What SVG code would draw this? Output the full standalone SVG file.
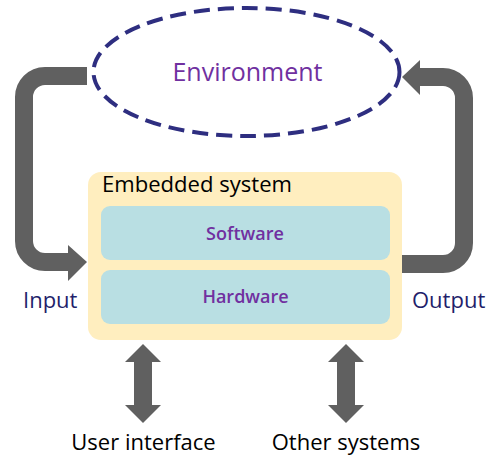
<svg xmlns="http://www.w3.org/2000/svg" width="497" height="476" viewBox="0 0 497 476">
<style>
.t{font-family:"Open Sans","Noto Sans","DejaVu Sans",sans-serif}
.flow{fill:none;stroke:#606060;stroke-width:18}
.head{fill:#606060}
.inner{fill:#B9DFE3}
.purple{fill:#7030A0}
.navy{fill:#1F1F6B}
</style>
<rect width="497" height="476" fill="#fff"/>
<g id="connectors">
  <path class="flow" d="M87 76 H45 A21 21 0 0 0 24 97 V241 A21 21 0 0 0 45 262 H70"/>
  <polygon class="head" points="68,245 87,262 68,281"/>
  <path class="flow" d="M402 264 H443 A21 21 0 0 0 464 243 V98 A21 21 0 0 0 443 77 H418"/>
  <polygon class="head" points="420,60 402,77 420,95"/>
  <polygon class="head" points="143,344 161,362 152,362 152,405 161,405 143,423 125,405 134,405 134,362 125,362"/>
  <polygon class="head" points="346,344 364,362 355,362 355,405 364,405 346,423 328,405 337,405 337,362 328,362"/>
</g>
<g id="environment">
  <ellipse cx="246.5" cy="72" rx="153" ry="64" fill="none" stroke="#2E2E80" stroke-width="4" stroke-dasharray="16 8"/>
  <text class="t purple" x="247.5" y="81" font-size="25" text-anchor="middle">Environment</text>
</g>
<g id="embedded">
  <rect x="88" y="172" width="314" height="168" rx="13" fill="#FFEEBF"/>
  <text class="t" x="102" y="192" font-size="22" fill="#000" textLength="190" lengthAdjust="spacingAndGlyphs">Embedded system</text>
</g>
<g id="software">
  <rect class="inner" x="101" y="206" width="289" height="54" rx="9"/>
  <text class="t purple" x="245" y="240" font-size="18" font-weight="600" text-anchor="middle">Software</text>
</g>
<g id="hardware">
  <rect class="inner" x="101" y="270" width="289" height="54" rx="9"/>
  <text class="t purple" x="245.5" y="303" font-size="18" font-weight="600" text-anchor="middle">Hardware</text>
</g>
<g id="labels">
  <text class="t navy" x="23" y="308" font-size="22">Input</text>
  <text class="t navy" x="412" y="308" font-size="22">Output</text>
  <text class="t" x="143.5" y="450" font-size="22" text-anchor="middle" fill="#000">User interface</text>
  <text class="t" x="346" y="450" font-size="22" text-anchor="middle" fill="#000">Other systems</text>
</g>
</svg>
